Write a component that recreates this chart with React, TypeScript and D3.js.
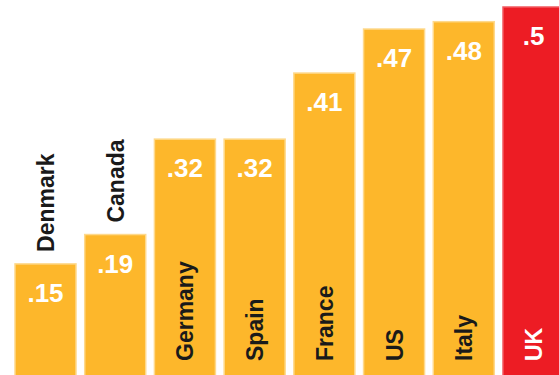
import React from "react";
import * as d3 from "d3";

const countries = ["Denmark", "Canada", "Germany", "Spain", "France", "US", "Italy", "UK"];
const values = [0.15, 0.19, 0.32, 0.32, 0.41, 0.47, 0.48, 0.5];
const highlight = ["UK"];
const labelsOutside = ["Denmark", "Canada"];

const W = 559;
const H = 375;

export default function App() {
  const x = d3.scaleBand<string>().domain(countries).range([15, 564]).paddingInner(0.125).paddingOuter(0);
  const y = d3.scaleLinear().domain([0, 0.5]).range([374, 7]);
  const bw = x.bandwidth();
  const fmt = (v: number) => String(v).replace(/^0/, "");
  return (
    <svg width={W} height={H} style={{ position: "absolute", left: 0, top: 0, background: "#fff" }}>
      {countries.map((c, i) => {
        const v = values[i];
        const x0 = x(c) as number;
        const top = y(v);
        const cx = x0 + bw / 2;
        const isHi = highlight.includes(c);
        const fill = isHi ? "#ED1C24" : "#FDB72B";
        const edge = isHi ? "#F25A60" : "#FED98C";
        const outside = labelsOutside.includes(c);
        const ly = outside ? top - 12 : 361;
        return (
          <g key={c}>
            <rect x={x0} y={top} width={bw} height={y(0) - top + 2} fill={fill} stroke={edge} strokeWidth={1.5} />
            <text
              x={cx}
              y={top + 38}
              textAnchor="middle"
              fill="#fff"
              fontFamily="Liberation Sans, Arial, sans-serif"
              fontWeight="bold"
              fontSize={26}
            >
              {fmt(v)}
            </text>
            <text
              transform={`translate(${cx + 8.5},${ly}) rotate(-90)`}
              textAnchor="start"
              fill={isHi ? "#fff" : "#1a1a1a"}
              fontFamily="Liberation Sans, Arial, sans-serif"
              fontWeight="bold"
              fontSize={23}
            >
              {c}
            </text>
          </g>
        );
      })}
    </svg>
  );
}
